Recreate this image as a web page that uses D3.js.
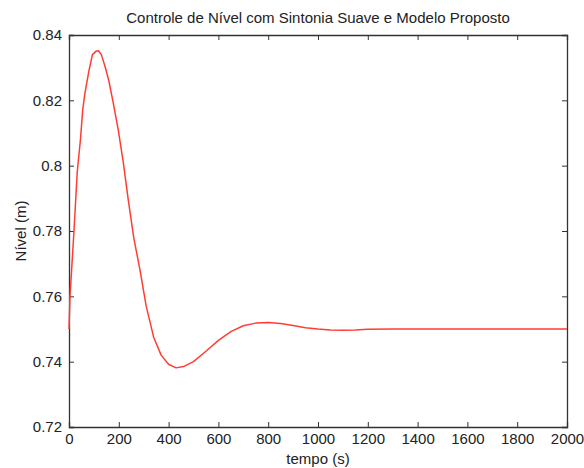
<!DOCTYPE html>
<html>
<head>
<meta charset="utf-8">
<script src="https://cdn.jsdelivr.net/npm/d3@7"></script>
<style>
  html, body { margin: 0; padding: 0; background: #fff; }
  svg text { font-family: "Liberation Sans", Arial, sans-serif; fill: #222; }
</style>
</head>
<body>
<svg id="chart" width="584" height="468"></svg>
<script>
// Step response of the level loop (time in s, level in m)
const time = [0, 4, 12, 20, 33, 46, 55, 64, 80, 94, 108, 118, 130, 145, 160, 178, 198, 218, 238, 260, 285,
  310, 340, 370, 400, 430, 460, 500, 550, 600, 650, 700, 750, 800, 850, 900, 950, 1000, 1050,
  1100, 1150, 1200, 1300, 1400, 1600, 1800, 2000];
const level = [0.75, 0.760, 0.770, 0.780, 0.798, 0.808, 0.817, 0.8222, 0.829, 0.834, 0.8350, 0.8352, 0.834, 0.8303, 0.826, 0.8191, 0.8109, 0.801, 0.7895, 0.778, 0.7681,
  0.757, 0.7475, 0.7420, 0.7392, 0.7381, 0.7385, 0.7400, 0.7432, 0.7465, 0.7492, 0.7510, 0.7518, 0.7520, 0.7517, 0.7511, 0.7504, 0.7500, 0.7497,
  0.7496, 0.7497, 0.7499, 0.7500, 0.7500, 0.7500, 0.7500, 0.7500];
const xTicks = [0, 200, 400, 600, 800, 1000, 1200, 1400, 1600, 1800, 2000];
const yTicks = [0.72, 0.74, 0.76, 0.78, 0.80, 0.82, 0.84];
const yTickLabels = ["0.72", "0.74", "0.76", "0.78", "0.8", "0.82", "0.84"];
const titleText = "Controle de Nível com Sintonia Suave e Modelo Proposto";
const xLabel = "tempo (s)";
const yLabel = "Nível (m)";

const svg = d3.select("#chart");
const plotLeft = 69, plotRight = 567, plotTop = 35, plotBottom = 427;
const fontSize = 15;

const x = d3.scaleLinear().domain([0, 2000]).range([plotLeft, plotRight]);
const y = d3.scaleLinear().domain([0.72, 0.84]).range([plotBottom, plotTop]);

const tickLen = 5;
const axisColor = "#333";

// Axes: ticks point inward on all four sides of the box
const gBottom = svg.append("g").attr("transform", `translate(0,${plotBottom})`)
  .call(d3.axisBottom(x).tickValues(xTicks).tickSize(-tickLen).tickPadding(6).tickFormat(d3.format("d")));
const gTop = svg.append("g").attr("transform", `translate(0,${plotTop})`)
  .call(d3.axisTop(x).tickValues(xTicks).tickSize(-tickLen).tickFormat(""));
const gLeft = svg.append("g").attr("transform", `translate(${plotLeft},0)`)
  .call(d3.axisLeft(y).tickValues(yTicks).tickSize(-tickLen).tickPadding(7)
    .tickFormat((d, i) => yTickLabels[i]));
const gRight = svg.append("g").attr("transform", `translate(${plotRight},0)`)
  .call(d3.axisRight(y).tickValues(yTicks).tickSize(-tickLen).tickFormat(""));

[gBottom, gTop, gLeft, gRight].forEach(g => {
  g.select(".domain").attr("stroke", axisColor).attr("stroke-width", 1.3);
  g.selectAll(".tick line").attr("stroke", axisColor).attr("stroke-width", 1);
  g.selectAll(".tick text").attr("font-size", fontSize).attr("fill", "#222")
    .attr("font-family", "Liberation Sans, Arial, sans-serif");
});
// Remove end ticks that coincide with the box corners
gBottom.selectAll(".tick").filter(d => d === 0 || d === 2000).select("line").remove();
gTop.selectAll(".tick").filter(d => d === 0 || d === 2000).select("line").remove();
gLeft.selectAll(".tick").filter(d => d === 0.72 || d === 0.84).select("line").remove();
gRight.selectAll(".tick").filter(d => d === 0.72 || d === 0.84).select("line").remove();

// Response curve
const line = d3.line().x((d, i) => x(time[i])).y(d => y(d));
svg.append("path")
  .datum(level)
  .attr("fill", "none")
  .attr("stroke", "#ff3d35")
  .attr("stroke-width", 1.5)
  .attr("stroke-linejoin", "round")
  .attr("d", line);

// Title and axis labels
svg.append("text")
  .attr("x", (plotLeft + plotRight) / 2).attr("y", 23)
  .attr("text-anchor", "middle").attr("font-size", fontSize)
  .text(titleText);
svg.append("text")
  .attr("x", (plotLeft + plotRight) / 2).attr("y", 464)
  .attr("text-anchor", "middle").attr("font-size", fontSize)
  .text(xLabel);
svg.append("text")
  .attr("transform", `translate(26,${(plotTop + plotBottom) / 2}) rotate(-90)`)
  .attr("text-anchor", "middle").attr("font-size", fontSize)
  .text(yLabel);
</script>
</body>
</html>
